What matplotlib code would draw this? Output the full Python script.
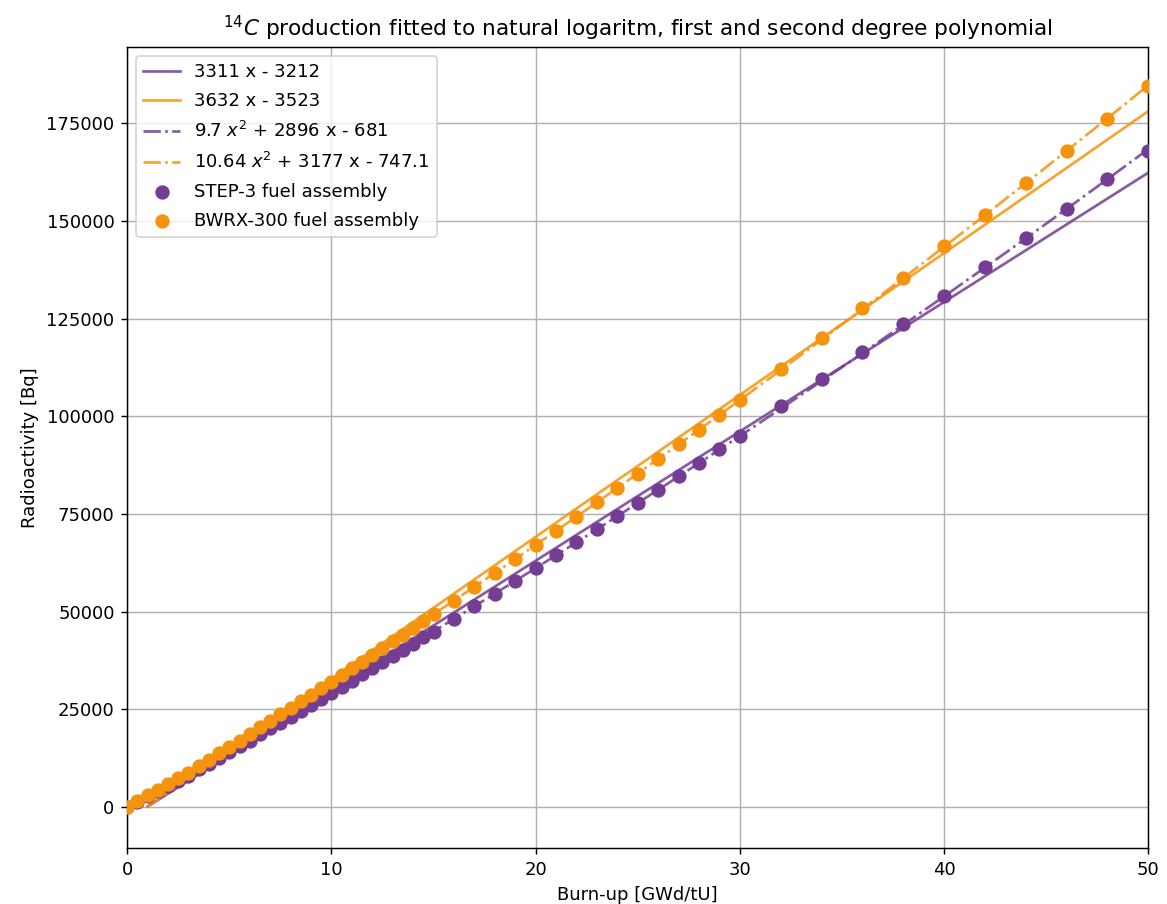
import numpy as np
import matplotlib
matplotlib.use("Agg")
import matplotlib.pyplot as plt

# burn-up points (GWd/tU)
burnup = [0, 0.5, 1, 1.5, 2, 2.5, 3, 3.5, 4, 4.5, 5, 5.5, 6, 6.5, 7, 7.5, 8, 8.5, 9, 9.5,
          10, 10.5, 11, 11.5, 12, 12.5, 13, 13.5, 14, 14.5, 15,
          16, 17, 18, 19, 20, 21, 22, 23, 24, 25, 26, 27, 28, 29, 30,
          32, 34, 36, 38, 40, 42, 44, 46, 48, 50]

# C-14 activity (Bq)
step3 = [0, 1350, 2700, 4000, 5300, 6600, 8000, 9600, 11100, 12500, 14000, 15500, 17000, 18600,
         20100, 21600, 23100, 24600, 26200, 27700, 29200, 30800, 32300, 33900, 35500, 37000,
         38600, 40200, 41800, 43400, 44900,
         48100, 51400, 54600, 57800, 61100, 64400, 67700, 71100, 74400, 77800, 81200, 84600,
         88000, 91500, 94900,
         102600, 109500, 116500, 123600, 130800, 138100, 145500, 153000, 160600, 167900]
bwrx = [0, 1500, 3000, 4400, 5800, 7300, 8800, 10500, 12100, 13800, 15400, 17000, 18700, 20400,
        22000, 23700, 25400, 27000, 28700, 30400, 32100, 33800, 35500, 37200, 38900, 40600,
        42400, 44100, 45800, 47600, 49300,
        52800, 56300, 59900, 63500, 67000, 70700, 74300, 78000, 81600, 85300, 89000, 92800,
        96600, 100300, 104100,
        112200, 119900, 127700, 135500, 143600, 151500, 159600, 168000, 176000, 184500]

# fit coefficients from the legend
lin_step = [3311, -3212]
lin_bwrx = [3632, -3523]
quad_step = [9.7, 2896, -681]
quad_bwrx = [10.64, 3177, -747.1]

purple = "#743d94"
orange = "#f5930c"

# fitted curves are drawn from 1 GWd/tU
x = np.array([b for b in burnup if b >= 1], dtype=float)

fig, ax = plt.subplots(figsize=(1167 / 130, 904 / 130), dpi=130)
fig.subplots_adjust(left=0.109, right=0.984, top=0.948, bottom=0.062)

ax.plot(x, np.polyval(lin_step, x), color=purple, alpha=0.85, label="3311 x - 3212")
ax.plot(x, np.polyval(lin_bwrx, x), color=orange, alpha=0.85, label="3632 x - 3523")
ax.plot(x, np.polyval(quad_step, x), "-.", color=purple, alpha=0.85,
        label=r"9.7 $x^2$ + 2896 x - 681")
ax.plot(x, np.polyval(quad_bwrx, x), "-.", color=orange, alpha=0.85,
        label=r"10.64 $x^2$ + 3177 x - 747.1")
ax.scatter(burnup, step3, s=48, color=purple, label="STEP-3 fuel assembly", zorder=3)
ax.scatter(burnup, bwrx, s=48, color=orange, label="BWRX-300 fuel assembly", zorder=3)

ax.set_xlim(0, 50)
ax.set_ylim(-10500, 194500)
ax.set_title(r"$^{14}C$ production fitted to natural logaritm, first and second degree polynomial",
             fontsize=12)
ax.set_xlabel("Burn-up [GWd/tU]")
ax.set_ylabel("Radioactivity [Bq]")
ax.grid(True)
ax.legend(loc="upper left", labelspacing=0.6)

plt.savefig("out.png")
